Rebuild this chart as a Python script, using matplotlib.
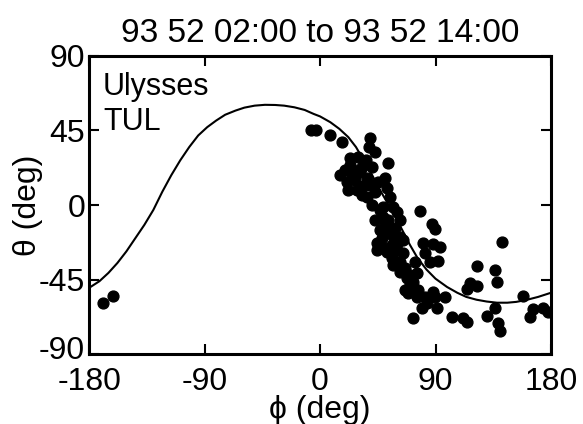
import numpy as np
import matplotlib
matplotlib.use("Agg")
import matplotlib.pyplot as plt
import matplotlib.transforms as mtransforms

plt.rcParams['font.family'] = ['Liberation Sans', 'DejaVu Sans']
plt.rcParams['axes.unicode_minus'] = False

# model curve (phi, theta in deg)
curve_phi = [-180, -172, -165, -158, -151, -144, -137, -130, -123, -116, -109, -102,
             -95, -88, -81, -74, -66, -59, -51, -43, -35, -28, -20, -12, -5, 0,
             8, 15, 22, 28, 34, 40, 46, 52, 58, 64, 70, 76, 83, 90, 99, 107,
             114, 122, 130, 138, 146, 153, 161, 170, 180]
curve_theta = [-50, -46, -41, -35, -28, -20, -12, -3, 8, 18, 27, 35,
               42, 47, 51, 54.5, 57, 58.8, 60, 60.5, 60.4, 60, 59, 57.4, 55, 53.5,
               50, 46, 41, 35, 27, 19, 10, 2, -6, -15, -24, -32, -39, -44.5, -49.5, -53,
               -55.5, -57.2, -58.3, -59, -59, -58.5, -57.3, -55.5, -53]

# measured directions
obs_phi = [-7.4, -3.5, 7.4, 16.8, 38.7, 37.9, 42.6, 52.7, 23.0, 29.3, 19.1, 25.4,
           20.7, 32.4, 36.3, 40.2, 28.5, 36.3, 42.6, 50.4, 52.0, 54.3, 48.8, 56.6,
           59.7, 77.7, 42.6, 48.8, 62.1, 46.5, 54.3, 62.1, 44.1, 55.8, 64.4, 44.1,
           51.9, 64.4, 87.1, 89.4, 80.0, 87.9, 93.3, 81.6, 85.5, 91.8, 141.7, 56.6,
           62.1, 67.5, 75.4, 72.2, 68.3, 75.4, 81.6, 89.4, 97.2, 87.9, 79.3, 90.9,
           72.2, 102.7, 111.3, 114.4, 130.0, 136.3, 138.6, 140.2, 122.2, 136.3, 137.8,
           116.7, 122.2, 114.4, 158.1, 165.9, 173.7, 163.6, 177.7, -169.1, -161.3,
           50.4, 58.2, 48.0, 59.7, 55.8, 66.0, 69.9, 76.1, 26.9, 33.2, 23.0, 44.9, 35.5,
           15.2, 24.6, 30.8, 21.5, 32.4, 38.7, 40.2, 46.5, 52.7, 56.6, 50.4, 60.5,
           62.1, 69.9, 66.0, 83.2, 73.8]
obs_theta = [45.3, 45.3, 42.3, 38.0, 40.5, 35.0, 32.0, 25.4, 28.4, 29.0, 21.1, 21.1,
             13.9, 22.9, 16.3, 22.9, 9.1, 4.8, 7.9, 16.3, 10.3, 4.8, -1.2, -1.2,
             -4.2, -3.6, -9.1, -7.2, -9.1, -15.1, -16.9, -19.3, -22.9, -24.2, -21.1, -27.2,
             -28.4, -29.0, -11.5, -14.5, -22.9, -23.6, -25.4, -29.0, -34.4, -33.8, -22.3, -36.2,
             -40.5, -44.1, -41.1, -46.5, -53.1, -55.6, -55.6, -55.6, -55.6, -52.5, -62.2, -62.2,
             -68.2, -67.6, -68.2, -70.7, -67.0, -62.2, -71.3, -76.1, -36.8, -39.3, -46.5,
             -47.1, -48.9, -50.7, -55.0, -62.8, -62.2, -67.6, -64.6, -59.2, -55.0,
             -12.1, -13.9, -19.9, -27.2, -32.0, -38.0, -48.3, -51.3, 15.1, 11.5, 24.2, 13.9, 27.2,
             18.1, 16.3, 19.9, 9.1, 6.0, 12.1, 0.0, -3.0, -9.1, -18.7, -26.0, -22.3,
             -34.4, -42.3, -51.3, -59.2, -34.4]

fig = plt.figure(figsize=(5.83, 4.24), dpi=100)
ax = fig.add_axes([0.153, 0.165, 0.792, 0.703])

ax.plot(curve_phi, curve_theta, 'k-', lw=1.5)
ax.plot(obs_phi, obs_theta, 'ko', ms=7.8)

ax.set_xlim(-180, 180)
ax.set_ylim(-90, 90)
ax.set_xticks([-180, -90, 0, 90, 180])
ax.set_yticks([-90, -45, 0, 45, 90])
ax.tick_params(direction='in', length=7, width=1.5, top=True, right=True,
               labelsize=23)
ax.tick_params(axis='x', pad=9)
ax.tick_params(axis='y', pad=3)
for s in ax.spines.values():
    s.set_linewidth(2.2)

# lift the bottom y label a little so it clears the -180 label
lbl = ax.get_yticklabels()[0]
lbl.set_transform(lbl.get_transform() +
                  mtransforms.ScaledTranslation(0, 5 / 72, fig.dpi_scale_trans))

ax.set_xlabel('ϕ (deg)', fontsize=23, labelpad=-1)
ax.set_ylabel('θ (deg)', fontsize=23, labelpad=-3)
ax.set_title('93 52 02:00 to 93 52 14:00', fontsize=24, pad=10)

ax.text(0.03, 0.945, 'Ulysses', transform=ax.transAxes, fontsize=22, va='top')
ax.text(0.03, 0.83, 'TUL', transform=ax.transAxes, fontsize=22, va='top')

fig.savefig('out.png', dpi=100)
